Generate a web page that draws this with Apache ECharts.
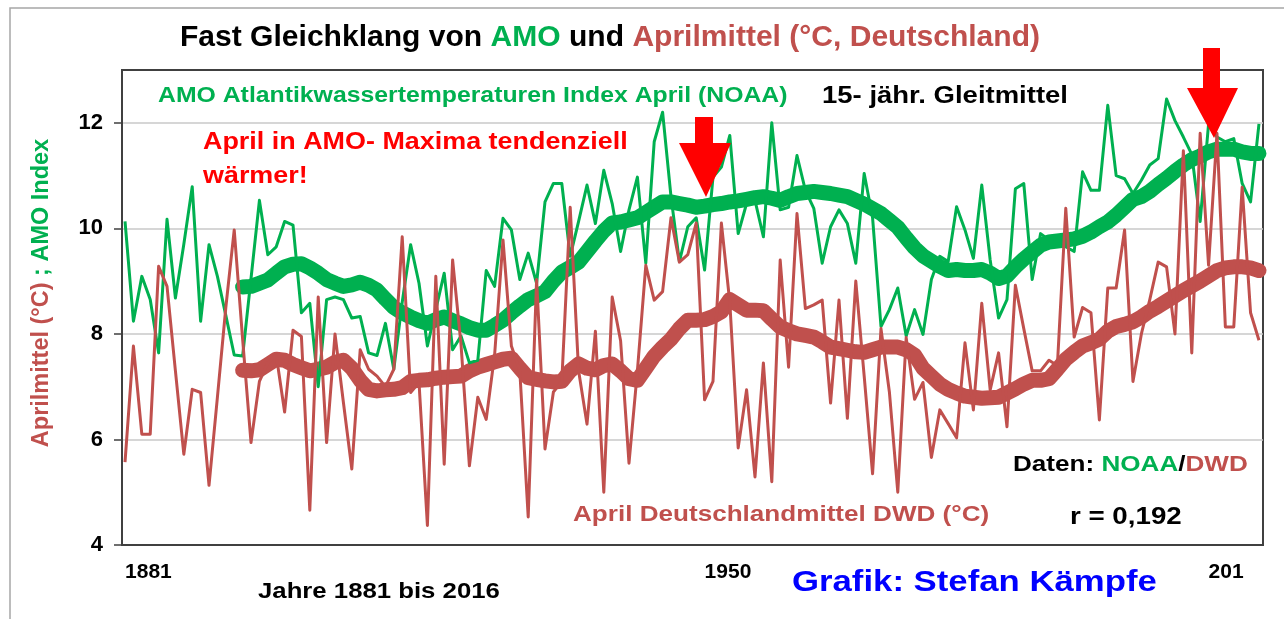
<!DOCTYPE html>
<html>
<head>
<meta charset="utf-8">
<script src="https://cdn.jsdelivr.net/npm/echarts@6/dist/echarts.min.js"></script>
<style>
html,body{margin:0;padding:0;background:#fff;}
#chart{width:1284px;height:619px;}
</style>
</head>
<body>
<div id="chart"></div>
<script>
// ---- data ----
const startYear = 1881;
const amoAnnual = [
 10.13, 8.24, 9.09, 8.65, 7.64, 10.17, 8.68, 9.7, 10.79, 8.24,
 9.69, 9.09, 8.35, 7.6, 7.58, 9.05, 10.53, 9.5, 9.65, 10.13,
 10.06, 8.4, 8.58, 7.0, 8.65, 8.7, 8.65, 8.3, 8.33, 7.64,
 7.59, 8.2, 7.33, 8.6, 9.69, 8.96, 7.77, 8.46, 9.15, 7.7,
 7.96, 7.45, 7.5, 9.2, 8.9, 10.19, 9.97, 9.03, 9.53, 8.96,
 10.5, 10.85, 10.85, 9.47, 10.13, 10.82, 10.09, 11.1, 10.47, 9.56,
 10.35, 10.97, 9.34, 11.64, 12.2, 10.6, 9.37, 10.03, 10.2, 9.21,
 10.97, 11.16, 11.76, 9.9, 10.47, 10.53, 9.84, 12.0, 10.35, 10.4,
 11.38, 10.72, 10.38, 9.34, 10.03, 10.35, 10.09, 9.34, 11.04, 10.2,
 8.14, 8.46, 8.87, 7.96, 8.46, 7.99, 9.03, 9.47, 9.37, 10.41,
 9.97, 9.43, 10.82, 9.4, 8.3, 8.65, 10.75, 10.85, 9.03, 9.9,
 9.78, 9.72, 9.65, 9.56, 11.07, 10.72, 10.72, 12.33, 11.0, 10.94,
 10.66, 10.91, 11.2, 11.32, 12.45, 12.04, 11.73, 11.4, 10.13, 11.98,
 11.73, 11.64, 11.7, 10.85, 10.5, 11.98
];
const aprilAnnual = [
 5.57, 7.77, 6.1, 6.1, 9.28, 8.9, 7.3, 5.72, 6.95, 6.89,
 5.13, 6.8, 8.5, 9.97, 7.9, 5.94, 7.1, 7.45, 7.6, 6.52,
 8.07, 7.95, 4.66, 8.7, 5.94, 8.0, 6.7, 5.44, 7.7, 7.33,
 7.2, 7.0, 7.33, 9.84, 6.89, 7.08, 4.37, 9.09, 5.53, 9.4,
 7.8, 5.5, 6.8, 6.38, 7.6, 9.78, 7.77, 7.3, 4.53, 9.03,
 5.82, 6.9, 7.1, 10.4, 7.3, 6.29, 8.05, 5.0, 8.7, 7.87,
 5.55, 7.3, 9.3, 8.64, 8.8, 10.2, 9.36, 9.5, 10.1, 6.75,
 7.1, 10.1, 8.6, 5.84, 6.94, 5.29, 7.45, 5.2, 9.4, 7.37,
 10.28, 8.48, 8.55, 8.64, 6.69, 8.64, 6.4, 9.0, 7.2, 5.35,
 8.1, 6.9, 5.0, 7.93, 6.76, 7.08, 5.66, 6.56, 6.3, 6.03,
 7.83, 6.56, 8.58, 6.94, 7.64, 6.24, 8.92, 8.1, 7.3, 7.3,
 7.5, 7.4, 10.38, 7.94, 8.5, 8.4, 6.37, 8.87, 8.87, 9.97,
 7.1, 8.0, 8.65, 9.36, 9.27, 8.0, 11.47, 7.64, 11.8, 9.3,
 11.8, 8.13, 8.13, 10.78, 8.4, 7.88
];
// 15-year running means (as drawn), starting 1895
const smoothStartYear = 1895;
const amoSmooth = [
 8.89, 8.9, 8.96, 9.02, 9.15, 9.27, 9.32, 9.33, 9.25, 9.15,
 9.03, 8.96, 8.9, 8.93, 8.98, 8.92, 8.83, 8.66, 8.5, 8.4,
 8.32, 8.25, 8.2, 8.27, 8.32, 8.25, 8.19, 8.12, 8.07, 8.07,
 8.16, 8.26, 8.4, 8.53, 8.65, 8.72, 8.8, 9.0, 9.17, 9.26,
 9.36, 9.56, 9.76, 9.95, 10.1, 10.12, 10.16, 10.2, 10.3, 10.4,
 10.5, 10.5, 10.47, 10.44, 10.4, 10.42, 10.45, 10.47, 10.5, 10.52,
 10.55, 10.58, 10.6, 10.57, 10.53, 10.6, 10.66, 10.68, 10.7, 10.68,
 10.66, 10.63, 10.6, 10.53, 10.46, 10.37, 10.28, 10.15, 10.02, 9.82,
 9.63, 9.48, 9.38, 9.28, 9.2, 9.22, 9.2, 9.2, 9.22, 9.15,
 9.05, 9.1, 9.27, 9.42, 9.55, 9.68, 9.74, 9.76, 9.78, 9.8,
 9.85, 9.93, 10.03, 10.12, 10.25, 10.4, 10.55, 10.6, 10.7, 10.83,
 10.95, 11.08, 11.2, 11.3, 11.37, 11.45, 11.5, 11.5, 11.5, 11.45,
 11.42, 11.42
];
const aprilSmooth = [
 7.31, 7.3, 7.32, 7.42, 7.52, 7.5, 7.42, 7.36, 7.3, 7.33,
 7.37, 7.46, 7.5, 7.35, 7.12, 6.95, 6.92, 6.94, 6.95, 6.98,
 7.1, 7.12, 7.13, 7.16, 7.18, 7.19, 7.2, 7.3, 7.37, 7.42,
 7.47, 7.52, 7.54, 7.35, 7.17, 7.14, 7.11, 7.09, 7.1, 7.3,
 7.43, 7.35, 7.32, 7.4, 7.43, 7.3, 7.15, 7.12, 7.35, 7.58,
 7.75, 7.9, 8.1, 8.26, 8.26, 8.27, 8.33, 8.42, 8.65, 8.55,
 8.45, 8.45, 8.44, 8.28, 8.13, 8.06, 8.0, 7.97, 7.94, 7.85,
 7.75, 7.72, 7.69, 7.66, 7.65, 7.7, 7.75, 7.75, 7.75, 7.7,
 7.6, 7.35, 7.2, 7.05, 6.95, 6.88, 6.82, 6.8, 6.78, 6.79,
 6.8, 6.88, 6.96, 7.05, 7.12, 7.12, 7.15, 7.33, 7.52, 7.65,
 7.77, 7.83, 7.9, 8.05, 8.14, 8.18, 8.23, 8.32, 8.43, 8.52,
 8.62, 8.72, 8.82, 8.91, 9.0, 9.1, 9.2, 9.25, 9.27, 9.27,
 9.25, 9.2
];
const yTickValues = [4, 6, 8, 10, 12];
const xTickYears = [1881, 1950, 2010];
const xTickLabels = ['1881', '1950', '201'];

// ---- build series data ----
function pairs(first, values) {
  return values.map(function (v, i) { return [first + i, v]; });
}

const GREEN = '#00B050';
const RED = '#C0504D';
const FONT = '"Liberation Sans", Arial, sans-serif';
const SX = 1.17;

function txt(x, y, text, size, color, align, rich) {
  const st = {
    x: 0, y: 0, text: text,
    font: 'bold ' + size + 'px ' + FONT,
    fill: color,
    textAlign: align || 'left',
    textVerticalAlign: 'middle'
  };
  if (rich) st.rich = rich;
  return { type: 'text', x: x, y: y, scaleX: SX, scaleY: 1, silent: true, z: 50, style: st };
}
function rs(size, color, weight) {
  return { fill: color, font: (weight || 'bold') + ' ' + size + 'px ' + FONT };
}

const chart = echarts.init(document.getElementById('chart'), null, { renderer: 'canvas' });

const option = {
  animation: false,
  backgroundColor: '#ffffff',
  grid: { left: 122, right: 21, top: 70, bottom: 74, show: true, borderColor: '#404040', borderWidth: 2, backgroundColor: 'transparent' },
  xAxis: {
    type: 'value',
    min: 1880.64,
    max: 2016.48,
    axisLine: { show: true, lineStyle: { color: '#404040', width: 2 } },
    axisTick: { show: false },
    splitLine: { show: false },
    axisLabel: {
      customValues: xTickYears,
      formatter: function (v) {
        const k = xTickYears.indexOf(Math.round(v));
        return k >= 0 ? xTickLabels[k] : '';
      },
      align: 'left',
      margin: 17,
      fontSize: 21,
      fontWeight: 'bold',
      fontFamily: FONT,
      color: '#000'
    }
  },
  yAxis: {
    type: 'value',
    min: 4,
    max: 13,
    interval: 2,
    axisLine: { show: true, lineStyle: { color: '#404040', width: 2 } },
    axisTick: { show: true, length: 8, customValues: yTickValues, lineStyle: { color: '#404040', width: 1.5 } },
    splitLine: { show: true, lineStyle: { color: '#c8c8c8', width: 1.5 } },
    axisLabel: {
      customValues: yTickValues,
      margin: 19,
      fontSize: 22,
      fontWeight: 'bold',
      fontFamily: FONT,
      color: '#000'
    }
  },
  series: [
    {
      name: 'AMO 15 J.', type: 'line', data: pairs(smoothStartYear, amoSmooth),
      symbol: 'none', z: 2,
      lineStyle: { color: GREEN, width: 15, cap: 'round', join: 'round' }
    },
    {
      name: 'April 15 J.', type: 'line', data: pairs(smoothStartYear, aprilSmooth),
      symbol: 'none', z: 3,
      lineStyle: { color: RED, width: 15, cap: 'round', join: 'round' }
    },
    {
      name: 'AMO', type: 'line', data: pairs(startYear, amoAnnual),
      symbol: 'none', z: 4,
      lineStyle: { color: GREEN, width: 3, join: 'round' }
    },
    {
      name: 'April', type: 'line', data: pairs(startYear, aprilAnnual),
      symbol: 'none', z: 5,
      lineStyle: { color: RED, width: 3, join: 'round' }
    }
  ],
  graphic: [
    { type: 'rect', silent: true, z: 0, shape: { x: 10, y: 8, width: 1400, height: 800 },
      style: { fill: 'none', stroke: '#a6a6a6', lineWidth: 1.5 } },
    // title
    { type: 'text', x: 610, y: 38, scaleX: 1.036, silent: true, z: 50,
      style: {
        x: 0, y: 0, textAlign: 'center', textVerticalAlign: 'middle',
        font: 'bold 29px ' + FONT, fill: '#000',
        text: '{k|Fast Gleichklang von }{g|AMO}{k| und }{r|Aprilmittel (°C, Deutschland)}',
        rich: { k: rs(29, '#000'), g: rs(29, GREEN), r: rs(29, RED) }
      } },
    txt(158, 96, 'AMO Atlantikwassertemperaturen Index April (NOAA)', 21.2, GREEN),
    txt(822, 97, '15- jähr. Gleitmittel', 23.5, '#000'),
    txt(203, 143, 'April in AMO- Maxima tendenziell', 23, '#FF0000'),
    txt(203, 177, 'wärmer!', 23, '#FF0000'),
    txt(573, 515, 'April Deutschlandmittel DWD (°C)', 22.3, RED),
    txt(1013, 465, '{k|Daten: }{g|NOAA}{k|/}{r|DWD}', 22.3, '#000', 'left',
        { k: rs(22.3, '#000'), g: rs(22.3, GREEN), r: rs(22.3, RED) }),
    txt(1070, 517, 'r = 0,192', 23.7, '#000'),
    txt(258, 592, 'Jahre 1881 bis 2016', 22, '#000'),
    txt(792, 583, 'Grafik: Stefan Kämpfe', 29.7, '#0000FF'),
    // y axis title (rotated)
    { type: 'text', x: 42, y: 293, rotation: Math.PI / 2, silent: true, z: 50,
      style: {
        x: 0, y: 0, textAlign: 'center', textVerticalAlign: 'middle',
        font: 'bold 23.5px ' + FONT, fill: RED,
        text: '{r|Aprilmittel (°C)}{g| ; AMO Index}',
        rich: { r: rs(23.5, RED), g: rs(23.5, GREEN) }
      } },
    // red arrows
    { type: 'polygon', silent: true, z: 60,
      shape: { points: [[695, 117], [713, 117], [713, 143], [731, 143], [706, 197], [679, 143], [695, 143]] },
      style: { fill: '#FF0000' } },
    { type: 'polygon', silent: true, z: 60,
      shape: { points: [[1203, 48], [1220, 48], [1220, 88], [1238, 88], [1214, 138], [1187, 88], [1203, 88]] },
      style: { fill: '#FF0000' } }
  ]
};
chart.setOption(option);
</script>
</body>
</html>
